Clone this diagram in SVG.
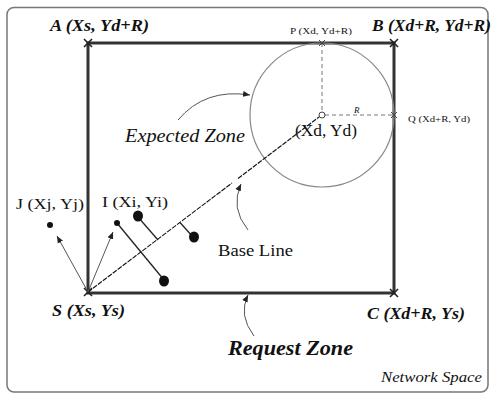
<svg xmlns="http://www.w3.org/2000/svg" width="493" height="394" viewBox="0 0 493 394">
<style>
.lbl{font-family:"Liberation Serif","Times New Roman",serif;fill:#111}
.bi{font-weight:bold;font-style:italic}
.it{font-style:italic}
.thick{stroke:#333;stroke-width:3;fill:none}
.dash{stroke:#777;stroke-width:1;stroke-dasharray:4 3;fill:none}
.cross{stroke:#222;stroke-width:1.6}
.thin{stroke:#555;stroke-width:1;fill:none}
.perp{stroke:#222;stroke-width:1.3;fill:none}
</style>
<defs>
<marker id="ah" markerWidth="8" markerHeight="8" refX="7" refY="4" orient="auto" markerUnits="userSpaceOnUse">
<path d="M0,1 L7,4 L0,7 Z" fill="#222"/>
</marker>
</defs>
<rect id="network-space" x="7" y="7.5" width="481" height="384.5" rx="7" fill="#fff" stroke="#777" stroke-width="1.5"/>

<g id="request-zone">
<rect x="88" y="43" width="306" height="250" class="thick"/>
</g>

<g id="expected-zone">
<circle cx="322" cy="115" r="72" fill="none" stroke="#888" stroke-width="1.2"/>
<line x1="322" y1="43" x2="322" y2="112" class="dash"/>
<line x1="325" y1="115" x2="394" y2="115" class="dash"/>
<circle cx="322" cy="115" r="3" fill="#fff" stroke="#444" stroke-width="1"/>
</g>

<g id="corners">
<path d="M84,39 L92,47 M92,39 L84,47" class="cross"/>
<path d="M390,39 L398,47 M398,39 L390,47" class="cross"/>
<path d="M390,289 L398,297 M398,289 L390,297" class="cross"/>
<path d="M84,288 L92,296 M92,288 L84,296" class="cross"/>
<path d="M319,40 L325,46 M325,40 L319,46" stroke="#444" stroke-width="1"/>
<path d="M391,112 L397,118 M397,112 L391,118" stroke="#444" stroke-width="1"/>
</g>

<g id="connectors">
<path d="M88,292 L232,183 M238,178.5 L319,117" stroke="#111" stroke-width="1.1" stroke-dasharray="5 1.2" fill="none"/>
<path d="M88,292 L57,236" class="thin" marker-end="url(#ah)"/>
<path d="M88,292 L113,232" class="thin" marker-end="url(#ah)"/>
<path d="M117,223 L164,280" class="perp"/>
<path d="M138,217 L158,240" class="perp"/>
<path d="M180,222.5 L193,237" class="perp"/>
<path d="M178,120 Q205,88 250,95" stroke="#555" stroke-width="1" fill="none" marker-end="url(#ah)"/>
<path d="M248,230 Q230,208 241,184" stroke="#555" stroke-width="1" fill="none" marker-end="url(#ah)"/>
<path d="M254,336 Q238,315 248,295" stroke="#555" stroke-width="1" fill="none" marker-end="url(#ah)"/>
</g>

<g id="nodes">
<g id="node-j"><circle cx="50" cy="225" r="3" fill="#111"/></g>
<g id="node-i"><circle cx="117" cy="223" r="3" fill="#111"/></g>
<g id="node-1"><ellipse cx="138" cy="216" rx="5" ry="5.5" fill="#111"/></g>
<g id="node-2"><ellipse cx="164" cy="281" rx="5" ry="5.5" fill="#111"/></g>
<g id="node-3"><ellipse cx="194" cy="237" rx="5" ry="5.5" fill="#111"/></g>
</g>

<g id="labels">
<text class="lbl bi" x="50" y="31" font-size="17" textLength="99" lengthAdjust="spacingAndGlyphs">A (Xs, Yd+R)</text>
<text class="lbl bi" x="372" y="31" font-size="17" textLength="119" lengthAdjust="spacingAndGlyphs">B (Xd+R, Yd+R)</text>
<text class="lbl bi" x="52" y="316" font-size="17" textLength="73" lengthAdjust="spacingAndGlyphs">S (Xs, Ys)</text>
<text class="lbl bi" x="367" y="319" font-size="17" textLength="98" lengthAdjust="spacingAndGlyphs">C (Xd+R, Ys)</text>
<text class="lbl bi" x="228" y="355" font-size="20" textLength="125" lengthAdjust="spacingAndGlyphs">Request Zone</text>
<text class="lbl it" x="381" y="382" font-size="15" textLength="101" lengthAdjust="spacingAndGlyphs">Network Space</text>
<text class="lbl it" x="125" y="142" font-size="18" textLength="120" lengthAdjust="spacingAndGlyphs">Expected Zone</text>
<text class="lbl" x="295" y="136" font-size="16" textLength="62" lengthAdjust="spacingAndGlyphs">(Xd, Yd)</text>
<text class="lbl" x="218" y="256" font-size="16" textLength="75" lengthAdjust="spacingAndGlyphs">Base Line</text>
<text class="lbl" x="16" y="209" font-size="15" textLength="68" lengthAdjust="spacingAndGlyphs">J (Xj, Yj)</text>
<text class="lbl" x="102" y="207" font-size="15" textLength="66" lengthAdjust="spacingAndGlyphs">I (Xi, Yi)</text>
<text class="lbl" x="290" y="34" font-size="8" textLength="62" lengthAdjust="spacingAndGlyphs">P (Xd, Yd+R)</text>
<text class="lbl" x="408" y="122" font-size="8" textLength="62" lengthAdjust="spacingAndGlyphs">Q (Xd+R, Yd)</text>
<text class="lbl it" x="354" y="113" font-size="9">R</text>
</g>
</svg>
